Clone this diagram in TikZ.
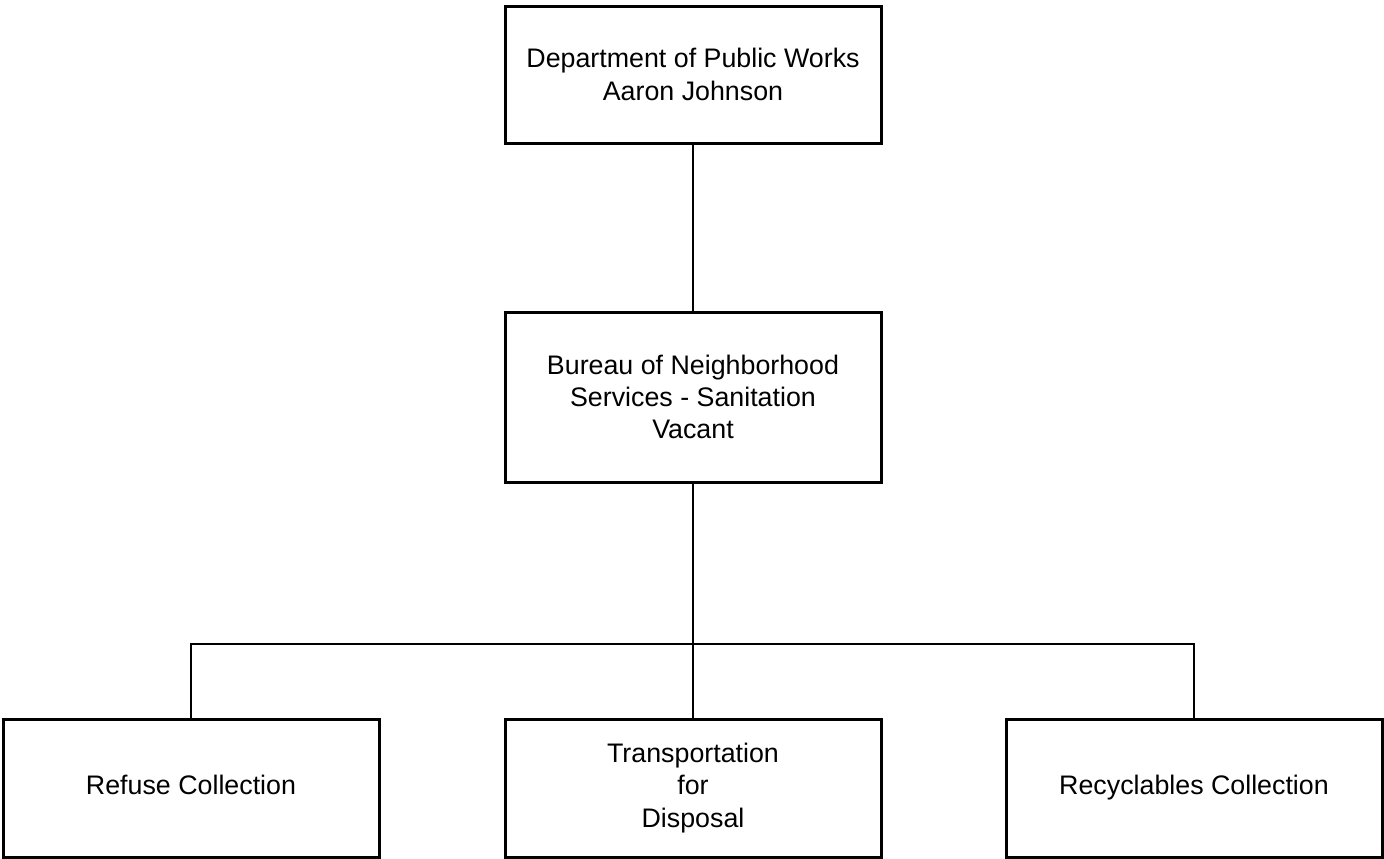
\documentclass[tikz,border=0pt]{standalone}
\usepackage{fontspec}
\setmainfont{Liberation Sans}
\tikzset{
    orgbox/.style={draw, rectangle, line width=1.5pt, minimum width=188pt,
        minimum height=#1, align=center, font=\fontsize{13.4}{16.2}\selectfont},
    link/.style={line width=0.75pt}
}
\begin{document}
\begin{tikzpicture}[x=0.5pt, y=-0.5pt]
    % Sanitation organisation chart
    \useasboundingbox (0,0) rectangle (1384,858);

    \node[orgbox=68.5pt] (dpw) at (693,74.5) {Department of Public Works\\Aaron Johnson};
    \node[orgbox=85pt] (bns) at (693,397) {Bureau of Neighborhood\\Services - Sanitation\\Vacant};

    \node[orgbox=69pt] (refuse) at (191,788) {\strut Refuse Collection};
    \node[orgbox=69pt] (transport) at (693,788) {Transportation\\for\\Disposal};
    \node[orgbox=69pt] (recycle) at (1194,788) {\strut Recyclables Collection};

    \coordinate (bus) at (693,644);

    \draw[link] (dpw) -- (bns);
    \draw[link] (bns) -- (transport);
    \draw[link] (refuse.north) -- (refuse.north |- bus) -- (recycle.north |- bus) -- (recycle.north);
\end{tikzpicture}
\end{document}
